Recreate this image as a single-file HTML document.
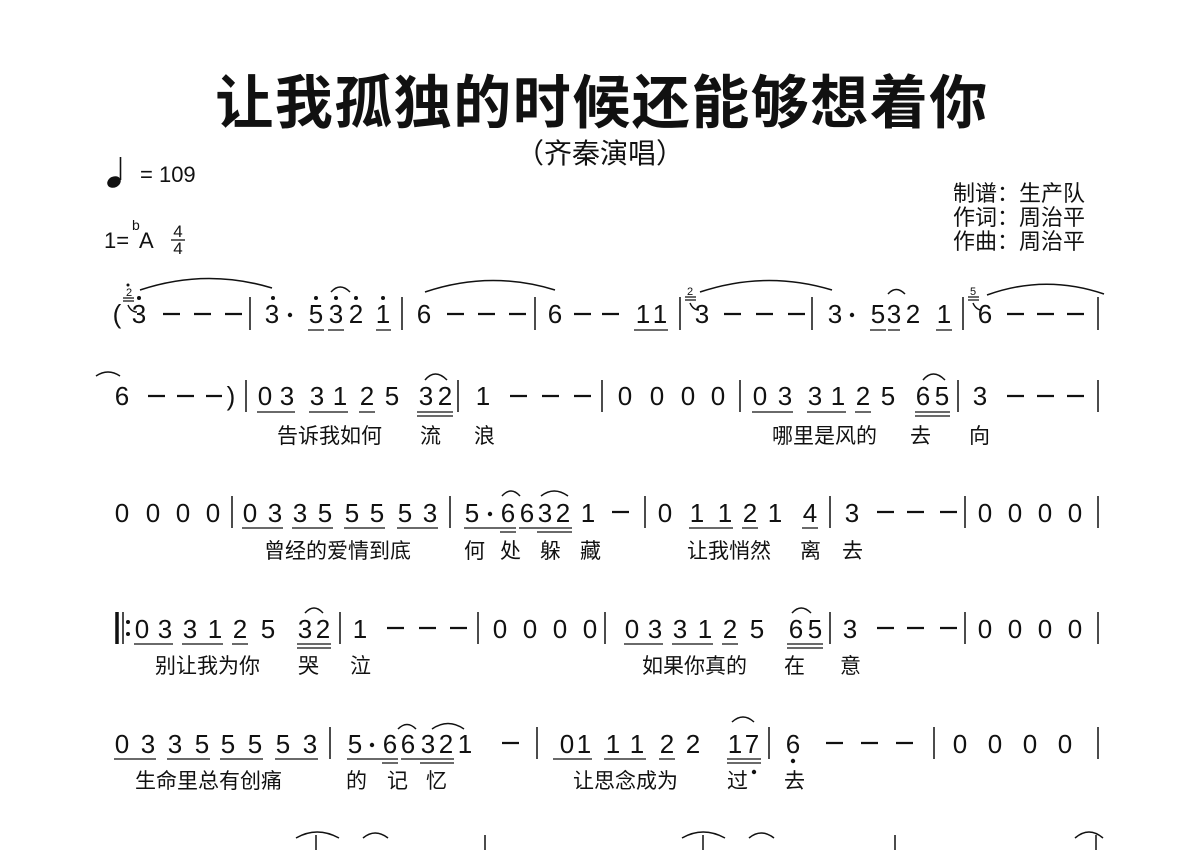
<!DOCTYPE html>
<html><head><meta charset="utf-8"><style>
html,body{margin:0;padding:0;background:#fff;}
svg{display:block;}
text{font-family:"Liberation Sans","Noto Sans CJK SC",sans-serif;fill:#111;}
.n{font-size:26px;text-anchor:middle;}
.l{font-size:21px;}
.g{font-size:11px;text-anchor:middle;}
</style></head><body>
<svg width="1200" height="850" viewBox="0 0 1200 850" xmlns="http://www.w3.org/2000/svg">
<rect width="1200" height="850" fill="#fff"/>
<text x="602" y="123" text-anchor="middle" style="font-size:58px;font-weight:bold;letter-spacing:1.5px">让我孤独的时候还能够想着你</text>
<text x="600" y="163" text-anchor="middle" style="font-size:28px">（齐秦演唱）</text>
<ellipse cx="114" cy="182" rx="7" ry="5.5" transform="rotate(-25 114 182)" fill="#111"/>
<line x1="120.5" y1="180" x2="120.5" y2="157" stroke="#111" stroke-width="1.6"/>
<text x="140" y="182" style="font-size:22px">=  109</text>
<text x="104" y="248" style="font-size:22px">1=</text>
<text x="132" y="230" style="font-size:14px">b</text>
<text x="139" y="248" style="font-size:22px">A</text>
<text x="178" y="237" style="font-size:17px;text-anchor:middle">4</text>
<line x1="171" y1="240" x2="185" y2="240" stroke="#111" stroke-width="1.3"/>
<text x="178" y="254" style="font-size:17px;text-anchor:middle">4</text>
<text x="953" y="201" style="font-size:22px">制谱：生产队</text>
<text x="953" y="225" style="font-size:22px">作词：周治平</text>
<text x="953" y="249" style="font-size:22px">作曲：周治平</text>

<g stroke="#111" stroke-width="1.5" fill="none">
<path d="M250 297V330M402 297V330M535 297V330M680 297V330M812 297V330M963 297V330M1098 297V330"/>
<path d="M246 380V412M458 380V412M602 380V412M740 380V412M958 380V412M1098 380V412"/>
<path d="M232 496V528M450 496V528M645 496V528M830 496V528M965 496V528M1098 496V528"/>
<path d="M340 612V644M478 612V644M605 612V644M830 612V644M965 612V644M1098 612V644"/>
<path d="M330 727V759M537 727V759M769 727V759M934 727V759M1098 727V759"/>
<path d="M316 835V850M485 835V850M703 835V850M895 835V850M1096 835V850"/>
<path d="M117 612V644" stroke-width="3.5"/><path d="M123 612V644"/>
<path d="M140 290Q206 268 272 288"/>
<path d="M331 292Q340 282 350 292"/>
<path d="M425 292Q490 270 555 290"/>
<path d="M700 292Q766 270 832 290"/>
<path d="M888 294Q896 285 905 294"/>
<path d="M987 295Q1045 274 1104 294"/>
<path d="M96 376Q108 368 120 376"/>
<path d="M425 380Q435 368 447 380"/>
<path d="M923 380Q933 368 945 380"/>
<path d="M502 496Q511 486 520 496"/>
<path d="M541 496Q554 486 568 496"/>
<path d="M305 613Q314 603 323 613"/>
<path d="M792 613Q801 603 811 613"/>
<path d="M398 729Q407 720 416 729"/>
<path d="M432 729Q448 718 464 729"/>
<path d="M732 722Q743 712 754 722"/>
<path d="M296 838Q317 826 339 838"/><path d="M363 838Q375 828 388 838"/>
<path d="M682 838Q703 826 725 838"/><path d="M749 838Q761 828 774 838"/><path d="M1075 838Q1089 826 1103 838"/>
<path d="M128 305Q131 312 137 312"/><path d="M690 303Q693 310 699 310"/><path d="M973 303Q976 310 982 310"/>
</g>
<g stroke="#111" stroke-width="1.3">
<path d="M123 298H134M123 301H134M685 297H696M685 300H696M968 297H979M968 300H979"/>
<path d="M308 330H324M328 330H344M376 330H391M634 330H668M870 330H886M888 330H900M936 330H952"/>
<path d="M257 412H295M309 412H348M359 412H375M417 412H453M417 416H453M752 412H793M807 412H846M855 412H871M915 412H950M915 416H950"/>
<path d="M242 528H283M292 528H333M344 528H385M397 528H438M464 528H516M500 532H516M519 528H572M537 532H572M689 528H733M742 528H758M802 528H818"/>
<path d="M134 644H173M182 644H223M232 644H248M297 644H331M297 648H331M624 644H663M672 644H713M722 644H738M787 644H823M787 648H823"/>
<path d="M114 759H156M167 759H210M220 759H263M275 759H318M347 759H398M382 763H398M401 759H454M420 763H454M553 759H592M604 759H646M659 759H675M727 759H761M727 763H761"/>
</g>
<g fill="#111">
<circle cx="139" cy="298" r="2"/><circle cx="273" cy="298" r="2"/><circle cx="316" cy="298" r="2"/><circle cx="336" cy="298" r="2"/><circle cx="356" cy="298" r="2"/><circle cx="383" cy="298" r="2"/>
<circle cx="128" cy="285" r="1.5"/>
<circle cx="290" cy="315" r="2.2"/><circle cx="852" cy="315" r="2.2"/><circle cx="490" cy="514" r="2.2"/><circle cx="372" cy="745" r="2.2"/>
<circle cx="128" cy="622" r="2"/><circle cx="128" cy="634" r="2"/>
<circle cx="793" cy="761" r="2.2"/><circle cx="754" cy="772" r="2.2"/>
</g>
<text class="g" x="129" y="296">2</text><text class="g" x="690" y="295">2</text><text class="g" x="973" y="295">5</text>

<text class="n" x="117" y="323">(</text>
<text class="n" x="139" y="323">3</text><text class="n" x="272" y="323">3</text><text class="n" x="316" y="323">5</text><text class="n" x="336" y="323">3</text><text class="n" x="356" y="323">2</text><text class="n" x="383" y="323">1</text>
<text class="n" x="424" y="323">6</text><text class="n" x="555" y="323">6</text><text class="n" x="643" y="323">1</text><text class="n" x="660" y="323">1</text>
<text class="n" x="702" y="323">3</text><text class="n" x="835" y="323">3</text><text class="n" x="878" y="323">5</text><text class="n" x="894" y="323">3</text><text class="n" x="913" y="323">2</text><text class="n" x="944" y="323">1</text>
<text class="n" x="985" y="323">6</text>
<g stroke="#111" stroke-width="2.2">
<path d="M163 314H180M194 314H211M225 314H242M447 314H464M478 314H495M509 314H526M574 314H591M602 314H619M724 314H741M756 314H773M788 314H805M1007 314H1024M1037 314H1054M1067 314H1084"/>
<path d="M148 396H165M177 396H194M206 396H222M510 396H527M542 396H559M574 396H591M1007 396H1024M1037 396H1054M1067 396H1084"/>
<path d="M612 512H629M877 512H894M907 512H924M940 512H957"/>
<path d="M387 628H404M419 628H436M450 628H467M877 628H894M907 628H924M940 628H957"/>
<path d="M502 743H519M826 743H843M861 743H878M896 743H913"/>
</g>
<text class="n" x="122" y="405">6</text><text class="n" x="231" y="405">)</text>
<text class="n" x="265" y="405">0</text><text class="n" x="287" y="405">3</text><text class="n" x="317" y="405">3</text><text class="n" x="340" y="405">1</text><text class="n" x="367" y="405">2</text><text class="n" x="392" y="405">5</text><text class="n" x="426" y="405">3</text><text class="n" x="445" y="405">2</text>
<text class="n" x="483" y="405">1</text>
<text class="n" x="625" y="405">0</text><text class="n" x="657" y="405">0</text><text class="n" x="688" y="405">0</text><text class="n" x="718" y="405">0</text>
<text class="n" x="760" y="405">0</text><text class="n" x="785" y="405">3</text><text class="n" x="815" y="405">3</text><text class="n" x="838" y="405">1</text><text class="n" x="863" y="405">2</text><text class="n" x="888" y="405">5</text><text class="n" x="923" y="405">6</text><text class="n" x="942" y="405">5</text>
<text class="n" x="980" y="405">3</text>
<text class="l" x="277" y="443">告诉我如何</text><text class="l" x="420" y="443">流</text><text class="l" x="474" y="443">浪</text>
<text class="l" x="772" y="443">哪里是风的</text><text class="l" x="910" y="443">去</text><text class="l" x="969" y="443">向</text>
<text class="n" x="122" y="522">0</text><text class="n" x="153" y="522">0</text><text class="n" x="183" y="522">0</text><text class="n" x="213" y="522">0</text>
<text class="n" x="250" y="522">0</text><text class="n" x="275" y="522">3</text><text class="n" x="300" y="522">3</text><text class="n" x="325" y="522">5</text><text class="n" x="352" y="522">5</text><text class="n" x="377" y="522">5</text><text class="n" x="405" y="522">5</text><text class="n" x="430" y="522">3</text>
<text class="n" x="472" y="522">5</text><text class="n" x="508" y="522">6</text><text class="n" x="527" y="522">6</text><text class="n" x="545" y="522">3</text><text class="n" x="563" y="522">2</text><text class="n" x="588" y="522">1</text>
<text class="n" x="665" y="522">0</text><text class="n" x="697" y="522">1</text><text class="n" x="725" y="522">1</text><text class="n" x="750" y="522">2</text><text class="n" x="775" y="522">1</text><text class="n" x="810" y="522">4</text>
<text class="n" x="852" y="522">3</text>
<text class="n" x="985" y="522">0</text><text class="n" x="1015" y="522">0</text><text class="n" x="1045" y="522">0</text><text class="n" x="1075" y="522">0</text>
<text class="l" x="264" y="558">曾经的爱情到底</text><text class="l" x="464" y="558">何</text><text class="l" x="500" y="558">处</text><text class="l" x="540" y="558">躲</text><text class="l" x="580" y="558">藏</text>
<text class="l" x="687" y="558">让我悄然</text><text class="l" x="800" y="558">离</text><text class="l" x="842" y="558">去</text>
<text class="n" x="142" y="638">0</text><text class="n" x="165" y="638">3</text><text class="n" x="190" y="638">3</text><text class="n" x="215" y="638">1</text><text class="n" x="240" y="638">2</text><text class="n" x="268" y="638">5</text><text class="n" x="305" y="638">3</text><text class="n" x="323" y="638">2</text>
<text class="n" x="360" y="638">1</text>
<text class="n" x="500" y="638">0</text><text class="n" x="530" y="638">0</text><text class="n" x="560" y="638">0</text><text class="n" x="590" y="638">0</text>
<text class="n" x="632" y="638">0</text><text class="n" x="655" y="638">3</text><text class="n" x="680" y="638">3</text><text class="n" x="705" y="638">1</text><text class="n" x="730" y="638">2</text><text class="n" x="757" y="638">5</text><text class="n" x="796" y="638">6</text><text class="n" x="815" y="638">5</text>
<text class="n" x="850" y="638">3</text>
<text class="n" x="985" y="638">0</text><text class="n" x="1015" y="638">0</text><text class="n" x="1045" y="638">0</text><text class="n" x="1075" y="638">0</text>
<text class="l" x="155" y="673">别让我为你</text><text class="l" x="298" y="673">哭</text><text class="l" x="350" y="673">泣</text>
<text class="l" x="642" y="673">如果你真的</text><text class="l" x="784" y="673">在</text><text class="l" x="840" y="673">意</text>
<text class="n" x="122" y="753">0</text><text class="n" x="148" y="753">3</text><text class="n" x="175" y="753">3</text><text class="n" x="202" y="753">5</text><text class="n" x="228" y="753">5</text><text class="n" x="255" y="753">5</text><text class="n" x="283" y="753">5</text><text class="n" x="310" y="753">3</text>
<text class="n" x="355" y="753">5</text><text class="n" x="390" y="753">6</text><text class="n" x="408" y="753">6</text><text class="n" x="428" y="753">3</text><text class="n" x="446" y="753">2</text><text class="n" x="465" y="753">1</text>
<text class="n" x="567" y="753">0</text><text class="n" x="584" y="753">1</text><text class="n" x="613" y="753">1</text><text class="n" x="637" y="753">1</text><text class="n" x="667" y="753">2</text><text class="n" x="693" y="753">2</text><text class="n" x="735" y="753">1</text><text class="n" x="752" y="753">7</text>
<text class="n" x="793" y="753">6</text>
<text class="n" x="960" y="753">0</text><text class="n" x="995" y="753">0</text><text class="n" x="1030" y="753">0</text><text class="n" x="1065" y="753">0</text>
<text class="l" x="135" y="788">生命里总有创痛</text><text class="l" x="346" y="788">的</text><text class="l" x="387" y="788">记</text><text class="l" x="426" y="788">忆</text>
<text class="l" x="573" y="788">让思念成为</text><text class="l" x="727" y="788">过</text><text class="l" x="784" y="788">去</text>
</svg>
</body></html>
